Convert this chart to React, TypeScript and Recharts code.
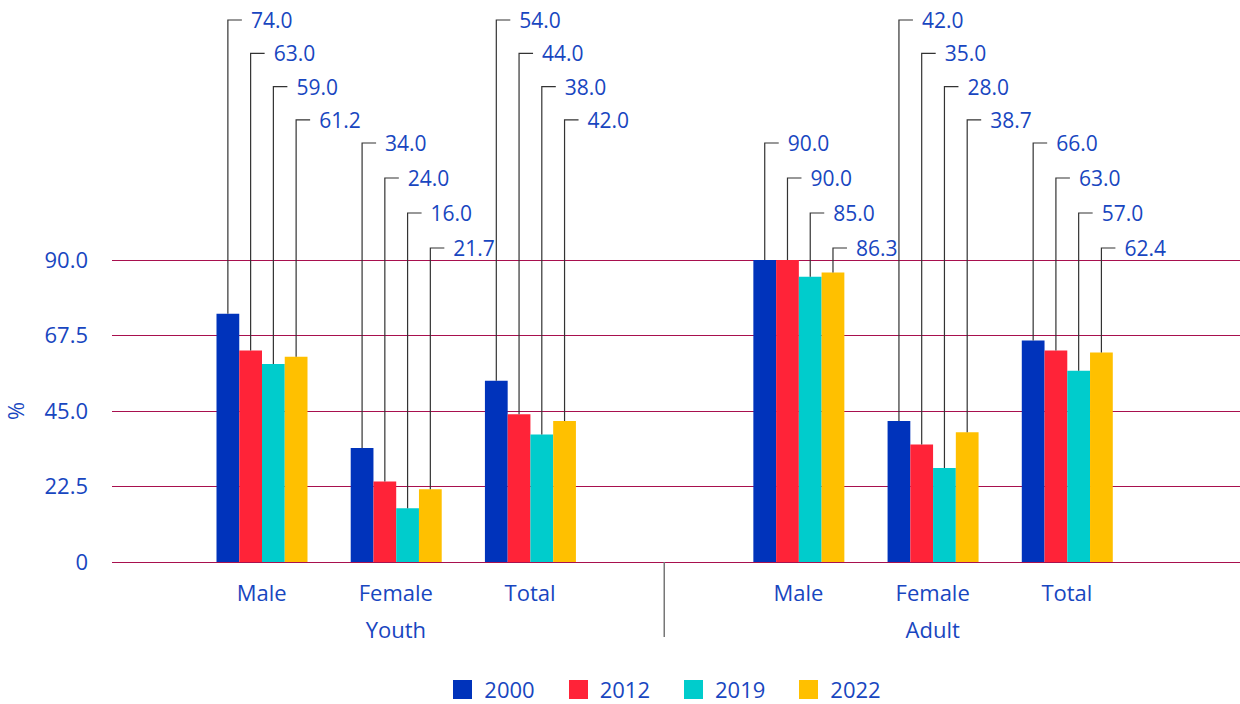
import React from "react";
import { BarChart, Bar, XAxis, YAxis, CartesianGrid, Legend, LabelList } from "recharts";

const groups = ["Youth", "Adult"];
const subCategories = ["Male", "Female", "Total"];
const seriesYears = ["2000", "2012", "2019", "2022"];
const yTicks = [0, 22.5, 45, 67.5, 90];

const youth2000 = [74.0, 34.0, 54.0];
const youth2012 = [63.0, 24.0, 44.0];
const youth2019 = [59.0, 16.0, 38.0];
const youth2022 = [61.2, 21.7, 42.0];

const adult2000 = [90.0, 42.0, 66.0];
const adult2012 = [90.0, 35.0, 63.0];
const adult2019 = [85.0, 28.0, 57.0];
const adult2022 = [86.3, 38.7, 62.4];

const colors = ["#0033bb", "#ff2338", "#00cccc", "#ffc000"];
const TEXT = "#1846c0";
const GRID = "#a8104e";
const FONT = "'Open Sans', 'Noto Sans', sans-serif";

const youth = [youth2000, youth2012, youth2019, youth2022];
const adult = [adult2000, adult2012, adult2019, adult2022];

// one empty slot between the two groups, used for the separator line
const data: any[] = [];
subCategories.forEach((c, i) => {
  const row: any = { key: `Y-${c}`, sub: c, group: groups[0], mid: i === 1 };
  seriesYears.forEach((y, s) => (row[y] = youth[s][i]));
  data.push(row);
});
data.push({ key: "gap", sub: "", group: "", spacer: true });
subCategories.forEach((c, i) => {
  const row: any = { key: `A-${c}`, sub: c, group: groups[1], mid: i === 1 };
  seriesYears.forEach((y, s) => (row[y] = adult[s][i]));
  data.push(row);
});

const HIGH_ROW = [20, 53.3, 86.6, 119.9];
const LOW_ROW = [143, 178, 213, 248];

function makeLabel(seriesIdx: number) {
  return (props: any) => {
    const { x, y, width, value, index } = props;
    if (value == null) return null;
    const ly = index % 2 === 0 ? HIGH_ROW[seriesIdx] : LOW_ROW[seriesIdx];
    const cx = x + width / 2;
    return (
      <g>
        <polyline
          points={`${cx},${y} ${cx},${ly} ${cx + 14},${ly}`}
          fill="none"
          stroke="#333"
          strokeWidth={1.2}
        />
        <text
          x={cx + 23}
          y={ly}
          fill={TEXT}
          fontSize={21}
          dominantBaseline="central"
          fontFamily={FONT}
        >
          {Number(value).toFixed(1)}
        </text>
      </g>
    );
  };
}

const XTick = ({ x, y, index }: any) => {
  const row = data[index];
  if (!row) return null;
  if (row.spacer) {
    return <line x1={x} x2={x} y1={y} y2={y + 75} stroke="#777" strokeWidth={1.5} />;
  }
  return (
    <g>
      <text x={x} y={y + 30} textAnchor="middle" dominantBaseline="central" fill={TEXT} fontSize={22}>
        {row.sub}
      </text>
      {row.mid && (
        <text x={x} y={y + 67} textAnchor="middle" dominantBaseline="central" fill={TEXT} fontSize={22}>
          {row.group}
        </text>
      )}
    </g>
  );
};

// snap grid lines onto whole pixels
const GridLine = ({ x1, x2, y1 }: any) => {
  const yy = Math.floor(y1) + 0.5;
  return <line x1={x1} x2={x2} y1={yy} y2={yy} stroke={GRID} strokeWidth={1} />;
};

const LegendContent = ({ payload }: any) => (
  <div
    style={{
      display: "flex",
      justifyContent: "center",
      paddingLeft: 94,
      gap: 34,
      fontFamily: FONT,
      fontSize: 22,
      lineHeight: "26px",
      color: TEXT,
    }}
  >
    {(payload || []).map((p: any) => (
      <div key={p.value} style={{ display: "flex", alignItems: "center", gap: 12 }}>
        <span style={{ width: 19, height: 19, background: p.color, display: "inline-block" }} />
        <span>{p.value}</span>
      </div>
    ))}
  </div>
);

export default function App() {
  return (
    <div style={{ position: "absolute", left: 0, top: 0, fontFamily: FONT, background: "#fff" }}>
      <BarChart
        width={1240}
        height={704}
        data={data}
        margin={{ top: 260, right: 0, bottom: 52, left: 0 }}
        barGap={0}
        barSize={22.75}
      >
        <CartesianGrid vertical={false} horizontal={<GridLine />} />
        <XAxis
          dataKey="key"
          axisLine={false}
          tickLine={false}
          tickSize={0}
          tickMargin={0}
          height={90}
          interval={0}
          padding={{ left: 82.5, right: 106 }}
          tick={<XTick />}
        />
        <YAxis
          width={112}
          domain={[0, 90]}
          ticks={yTicks}
          axisLine={false}
          tickLine={false}
          tickMargin={18}
          tick={{ fill: TEXT, fontSize: 22 }}
          tickFormatter={(v: number) => (v === 0 ? "0" : v.toFixed(1))}
          label={{
            value: "%",
            content: ({ viewBox }: any) => (
              <text
                x={15}
                y={viewBox.y + viewBox.height / 2}
                transform={`rotate(-90, 15, ${viewBox.y + viewBox.height / 2})`}
                textAnchor="middle"
                dominantBaseline="central"
                fill={TEXT}
                fontSize={22}
              >
                %
              </text>
            ),
          }}
        />
        <Legend
          verticalAlign="middle"
          align="center"
          layout="horizontal"
          wrapperStyle={{ top: 676, left: 0, width: 1240 }}
          content={<LegendContent />}
        />
        {seriesYears.map((y, s) => (
          <Bar key={y} dataKey={y} name={y} fill={colors[s]} isAnimationActive={false}>
            <LabelList dataKey={y} content={makeLabel(s)} />
          </Bar>
        ))}
      </BarChart>
    </div>
  );
}
